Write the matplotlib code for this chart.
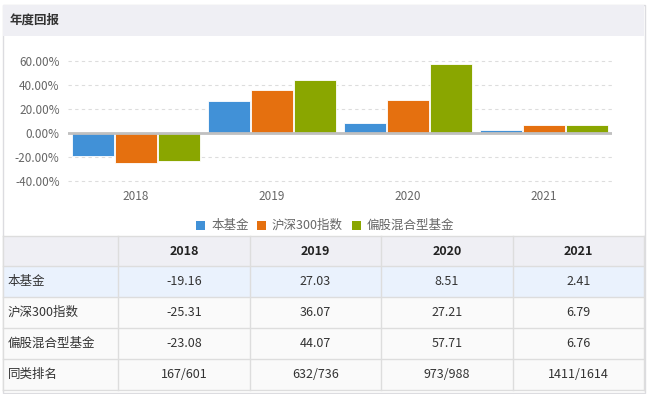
import matplotlib.pyplot as plt
from matplotlib.patches import Rectangle

plt.rcParams['font.family'] = ['Noto Sans CJK SC', 'DejaVu Sans']

years = ['2018', '2019', '2020', '2021']
series_names = ['本基金', '沪深300指数', '偏股混合型基金']
fund = [-19.16, 27.03, 8.51, 2.41]
hs300 = [-25.31, 36.07, 27.21, 6.79]
mixed = [-23.08, 44.07, 57.71, 6.76]
rank = ['167/601', '632/736', '973/988', '1411/1614']
colors = ['#4191d7', '#e5700f', '#8aa600']
yticks = [-40, -20, 0, 20, 40, 60]

W, H = 648, 394
fig = plt.figure(figsize=(W / 100, H / 100), dpi=100)

# background overlay in pixel coordinates
bg = fig.add_axes([0, 0, 1, 1])
bg.set_xlim(0, W)
bg.set_ylim(H, 0)
bg.axis('off')

# outer frame + header band
bg.add_patch(Rectangle((2.5, 4.5), 642, 388, facecolor='white', edgecolor='#dcdce0', lw=1))
bg.add_patch(Rectangle((3, 5), 641, 31, facecolor='#efeff4', edgecolor='none'))
bg.text(10, 20, '年度回报', fontsize=9, fontweight='bold', color='#333333', va='center')

# chart axes: x 68..612 px, y 55..187 px
ax = fig.add_axes([68 / W, 1 - 187 / H, (612 - 68) / W, 132 / H])
ax.set_xlim(-0.5, 3.5)
ax.set_ylim(-45, 65)
bw = 0.305
xs = range(len(years))
for i, (vals, c) in enumerate(zip([fund, hs300, mixed], colors)):
    ax.bar([x + (i - 1) * (bw + 0.012) for x in xs], vals, width=bw, color=c,
           edgecolor='white', linewidth=0.6, zorder=3, label=series_names[i])
for t in yticks:
    if t != 0:
        ax.axhline(t, color='#dddddd', lw=0.8, ls=(0, (3, 3)), zorder=1)
ax.axhline(0, color='#c0c0c0', lw=2, zorder=4)
ax.set_yticks(yticks)
ax.set_yticklabels([f'{t:.2f}%' for t in yticks], fontsize=8.5, color='#666666')
ax.set_xticks(list(xs))
ax.set_xticklabels(years, fontsize=8.5, color='#666666')
ax.tick_params(length=0, pad=6)
ax.tick_params(axis='x', pad=2)
for s in ax.spines.values():
    s.set_visible(False)
ax.patch.set_alpha(0)

# legend
lx = [196, 257, 352]
for i, name in enumerate(series_names):
    bg.add_patch(Rectangle((lx[i], 220.5), 9, 9, facecolor=colors[i], edgecolor='none'))
    bg.text(lx[i] + 15, 225, name, fontsize=9, color='#666666', va='center')

# table
col_edges = [3, 118, 250, 381, 513, 644]
row_edges = [236, 266, 297, 328, 359, 390]
row_bg = ['#efeff4', '#eaf2fd', '#fafafa', '#fafafa', '#fafafa']
rows = [[''] + years,
        [series_names[0]] + [f'{v:.2f}' for v in fund],
        [series_names[1]] + [f'{v:.2f}' for v in hs300],
        [series_names[2]] + [f'{v:.2f}' for v in mixed],
        ['同类排名'] + rank]
for r in range(5):
    y0, y1 = row_edges[r], row_edges[r + 1]
    bg.add_patch(Rectangle((col_edges[0], y0), col_edges[-1] - col_edges[0], y1 - y0,
                           facecolor=row_bg[r], edgecolor='none'))
    for c, txt in enumerate(rows[r]):
        if c == 0:
            bg.text(8, (y0 + y1) / 2, txt, fontsize=9, color='#333333', va='center')
        else:
            bg.text((col_edges[c] + col_edges[c + 1]) / 2, (y0 + y1) / 2, txt,
                    fontsize=9, color='#222222' if r == 0 else '#333333',
                    fontweight='bold' if r == 0 else 'normal', ha='center', va='center')
for y in row_edges:
    bg.plot([col_edges[0], col_edges[-1]], [y, y], color='#dddddd', lw=1)
for x in col_edges:
    bg.plot([x, x], [row_edges[0], row_edges[-1]], color='#dddddd', lw=1)

fig.savefig('out.png', dpi=100)
